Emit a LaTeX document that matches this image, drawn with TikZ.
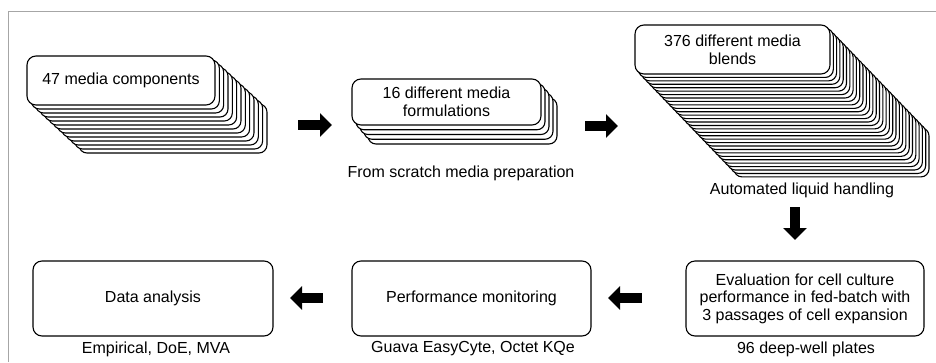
\documentclass[tikz,border=0pt]{standalone}
\usepackage{fontspec}
\setmainfont{Liberation Sans}
\usetikzlibrary{arrows.meta}
\newcommand\mystack[7]{%
  \foreach \i in {#5,...,1}{%
    \draw[stackbox] ({#1+\i*#6},{#2+\i*#7}) rectangle ({#3+\i*#6},{#4+\i*#7});
  }%
}
\begin{document}
\begin{tikzpicture}[x=1pt,y=-1pt,
  stackbox/.style={draw=black,fill=white,line width=1.1pt,rounded corners=8pt},
  mainbox/.style={draw=black,fill=white,line width=1.1pt,rounded corners=9pt,align=center,inner sep=0pt,font=\fontsize{16}{18}\selectfont},
  lbl/.style={font=\fontsize{16}{18}\selectfont,inner sep=0pt},
  blockarrow/.style={line width=10pt,-{Triangle[width=23pt,length=12pt]}}]
\useasboundingbox (0,0) rectangle (936,362);
\draw[gray!70,line width=1pt] (8.5,362) -- (8.5,11.5) -- (936,11.5);
% stacks
\mystack{27}{56}{215}{105}{12}{4.33}{4}
\node[mainbox,minimum width=188pt,minimum height=49pt] (s1) at (121,80.5) {47 media components};
\mystack{352}{79}{541}{125}{4}{4}{4.75}
\node[mainbox,minimum width=189pt,minimum height=46pt] (s2) at (446.5,102) {16 different media\\formulations};
\mystack{635}{25}{830}{74}{30}{3.3}{3.43}
\node[mainbox,minimum width=195pt,minimum height=49pt] (s3) at (732.5,49.5) {376 different media\\blends};
\node[lbl] (l2) at (461,173) {From scratch media preparation};
\node[lbl] (l3) at (802,190) {Automated liquid handling};
% bottom boxes
\node[mainbox,minimum width=240pt,minimum height=75pt] (b1) at (153,298.5) {Data analysis};
\node[mainbox,minimum width=239pt,minimum height=75pt] (b2) at (471.5,298.5) {Performance monitoring};
\node[mainbox,minimum width=238pt,minimum height=75pt,font=\fontsize{16}{17.5}\selectfont] (b3) at (805,298.5) {Evaluation for cell culture\\performance in fed-batch with\\3 passages of cell expansion};
\node[lbl] (lb1) at (156,349) {Empirical, DoE, MVA};
\node[lbl] (lb2) at (473,349) {Guava EasyCyte, Octet KQe};
\node[lbl] (lb3) at (806,349) {96 deep-well plates};
% arrows
\coordinate (a1s) at (298,125); \coordinate (a1e) at (332,125);
\coordinate (a2s) at (585,126); \coordinate (a2e) at (618,126);
\coordinate (a3s) at (795,207); \coordinate (a3e) at (795,240);
\coordinate (a4s) at (642,298); \coordinate (a4e) at (608,298);
\coordinate (a5s) at (323,298); \coordinate (a5e) at (290,298);
\draw[blockarrow] (a1s) -- (a1e);
\draw[blockarrow] (a2s) -- (a2e);
\draw[blockarrow] (a3s) -- (a3e);
\draw[blockarrow] (a4s) -- (a4e);
\draw[blockarrow] (a5s) -- (a5e);
\end{tikzpicture}
\end{document}
